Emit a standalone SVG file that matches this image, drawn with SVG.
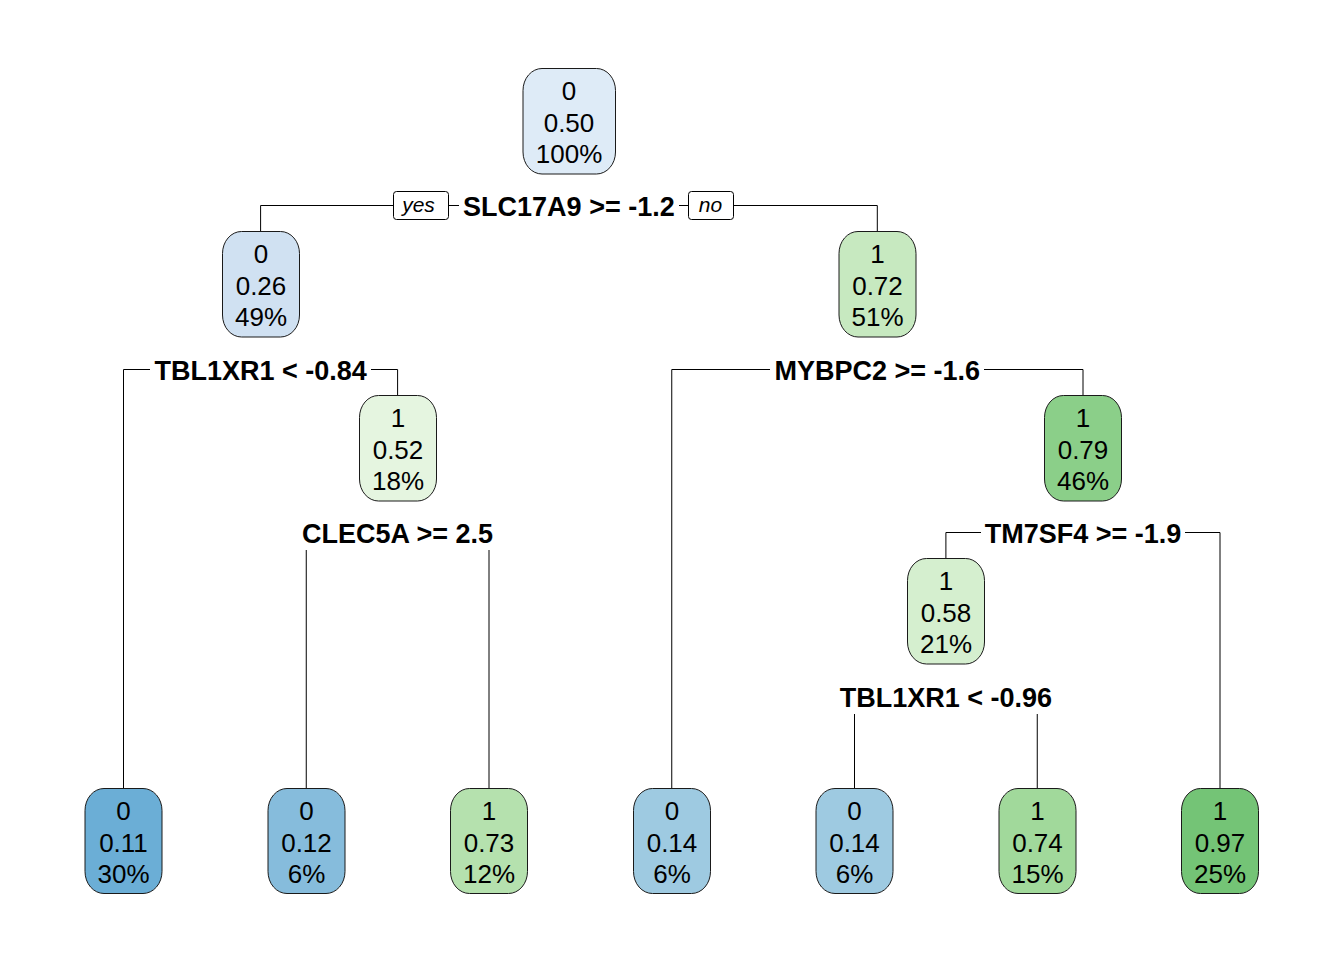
<svg xmlns="http://www.w3.org/2000/svg" width="1344" height="960" viewBox="0 0 1344 960">
<style>
.bg{fill:#ffffff}
.box{stroke:#1a1a1a;stroke-width:1}
.nt{font-family:"Liberation Sans",Arial,sans-serif;font-size:26px;fill:#000;text-anchor:middle}
.sl{font-family:"Liberation Sans",Arial,sans-serif;font-size:27px;font-weight:bold;fill:#000;text-anchor:middle}
.yn{font-family:"Liberation Sans",Arial,sans-serif;font-size:21px;font-style:italic;fill:#000;text-anchor:middle}
.edge{fill:none;stroke:#000;stroke-width:1}
.lbg{fill:#fff;stroke:none}
.ynbox{fill:#fff;stroke:#000;stroke-width:1}
</style>
<rect class="bg" x="0" y="0" width="1344" height="960"/>
<g id="connectors">
<path class="edge" d="M260.6 231 V205.5 H877.3 V231"/>
<path class="edge" d="M123.5 788 V369.5 H397.6 V395"/>
<path class="edge" d="M671.75 788 V369.5 H1083 V395"/>
<path class="edge" d="M306.25 788 V532.5 H489 V788"/>
<path class="edge" d="M945.9 558 V532.5 H1220 V788"/>
<path class="edge" d="M854.5 788 V696.5 H1037.25 V788"/>
</g>
<g id="split-labels">
<g id="split-root">
<rect class="lbg" x="459" y="189" width="220" height="33"/>
<text class="sl" x="568.9" y="215.5">SLC17A9 &gt;= -1.2</text>
<rect class="ynbox" x="393.5" y="191.5" width="55" height="28" rx="3"/>
<text class="yn" x="418.5" y="212">yes</text>
<rect class="ynbox" x="688.5" y="191.5" width="45" height="28" rx="3"/>
<text class="yn" x="710.5" y="212">no</text>
</g>
<g id="split-n2">
<rect class="lbg" x="150" y="352" width="221" height="34"/>
<text class="sl" x="260.6" y="379.5">TBL1XR1 &lt; -0.84</text>
</g>
<g id="split-n3">
<rect class="lbg" x="770" y="352" width="214" height="34"/>
<text class="sl" x="877.3" y="379.5">MYBPC2 &gt;= -1.6</text>
</g>
<g id="split-n5">
<rect class="lbg" x="297" y="515" width="200" height="35"/>
<text class="sl" x="397.6" y="542.5">CLEC5A &gt;= 2.5</text>
</g>
<g id="split-n7">
<rect class="lbg" x="981" y="515" width="204" height="35"/>
<text class="sl" x="1083" y="542.5">TM7SF4 &gt;= -1.9</text>
</g>
<g id="split-n14">
<rect class="lbg" x="836" y="679" width="220" height="35"/>
<text class="sl" x="945.9" y="706.5">TBL1XR1 &lt; -0.96</text>
</g>
</g>
<g id="node-root">
<rect class="box" x="523" y="68.5" width="92.5" height="105.5" rx="19" ry="22" fill="#DEEBF7"/>
<text class="nt" x="569" y="99.5">0</text>
<text class="nt" x="569" y="131.5">0.50</text>
<text class="nt" x="569" y="163">100%</text>
</g>
<g id="node-2">
<rect class="box" x="222.5" y="231.5" width="77" height="105.5" rx="19" ry="22" fill="#D0E1F2"/>
<text class="nt" x="261" y="262.5">0</text>
<text class="nt" x="261" y="294.5">0.26</text>
<text class="nt" x="261" y="326">49%</text>
</g>
<g id="node-3">
<rect class="box" x="839" y="231.5" width="77" height="105.5" rx="19" ry="22" fill="#C7E9C0"/>
<text class="nt" x="877.5" y="262.5">1</text>
<text class="nt" x="877.5" y="294.5">0.72</text>
<text class="nt" x="877.5" y="326">51%</text>
</g>
<g id="node-5">
<rect class="box" x="359.5" y="395.5" width="77" height="105.5" rx="19" ry="22" fill="#E5F5E0"/>
<text class="nt" x="398" y="426.5">1</text>
<text class="nt" x="398" y="458.5">0.52</text>
<text class="nt" x="398" y="490">18%</text>
</g>
<g id="node-7">
<rect class="box" x="1044.5" y="395.5" width="77" height="105.5" rx="19" ry="22" fill="#8BCF89"/>
<text class="nt" x="1083" y="426.5">1</text>
<text class="nt" x="1083" y="458.5">0.79</text>
<text class="nt" x="1083" y="490">46%</text>
</g>
<g id="node-14">
<rect class="box" x="907.5" y="558.5" width="77" height="105.5" rx="19" ry="22" fill="#D5EFCF"/>
<text class="nt" x="946" y="589.5">1</text>
<text class="nt" x="946" y="621.5">0.58</text>
<text class="nt" x="946" y="653">21%</text>
</g>
<g id="leaf-4">
<rect class="box" x="85" y="788.5" width="77" height="105" rx="19" ry="22" fill="#6BAED6"/>
<text class="nt" x="123.5" y="819.5">0</text>
<text class="nt" x="123.5" y="851.5">0.11</text>
<text class="nt" x="123.5" y="883">30%</text>
</g>
<g id="leaf-10">
<rect class="box" x="268" y="788.5" width="77" height="105" rx="19" ry="22" fill="#86BCDC"/>
<text class="nt" x="306.5" y="819.5">0</text>
<text class="nt" x="306.5" y="851.5">0.12</text>
<text class="nt" x="306.5" y="883">6%</text>
</g>
<g id="leaf-11">
<rect class="box" x="450.5" y="788.5" width="77" height="105" rx="19" ry="22" fill="#B5E1AE"/>
<text class="nt" x="489" y="819.5">1</text>
<text class="nt" x="489" y="851.5">0.73</text>
<text class="nt" x="489" y="883">12%</text>
</g>
<g id="leaf-6">
<rect class="box" x="633.5" y="788.5" width="77" height="105" rx="19" ry="22" fill="#9ECAE1"/>
<text class="nt" x="672" y="819.5">0</text>
<text class="nt" x="672" y="851.5">0.14</text>
<text class="nt" x="672" y="883">6%</text>
</g>
<g id="leaf-28">
<rect class="box" x="816" y="788.5" width="77" height="105" rx="19" ry="22" fill="#9ECAE1"/>
<text class="nt" x="854.5" y="819.5">0</text>
<text class="nt" x="854.5" y="851.5">0.14</text>
<text class="nt" x="854.5" y="883">6%</text>
</g>
<g id="leaf-29">
<rect class="box" x="999" y="788.5" width="77" height="105" rx="19" ry="22" fill="#A1D99B"/>
<text class="nt" x="1037.5" y="819.5">1</text>
<text class="nt" x="1037.5" y="851.5">0.74</text>
<text class="nt" x="1037.5" y="883">15%</text>
</g>
<g id="leaf-15">
<rect class="box" x="1181.5" y="788.5" width="77" height="105" rx="19" ry="22" fill="#74C476"/>
<text class="nt" x="1220" y="819.5">1</text>
<text class="nt" x="1220" y="851.5">0.97</text>
<text class="nt" x="1220" y="883">25%</text>
</g>
</svg>
